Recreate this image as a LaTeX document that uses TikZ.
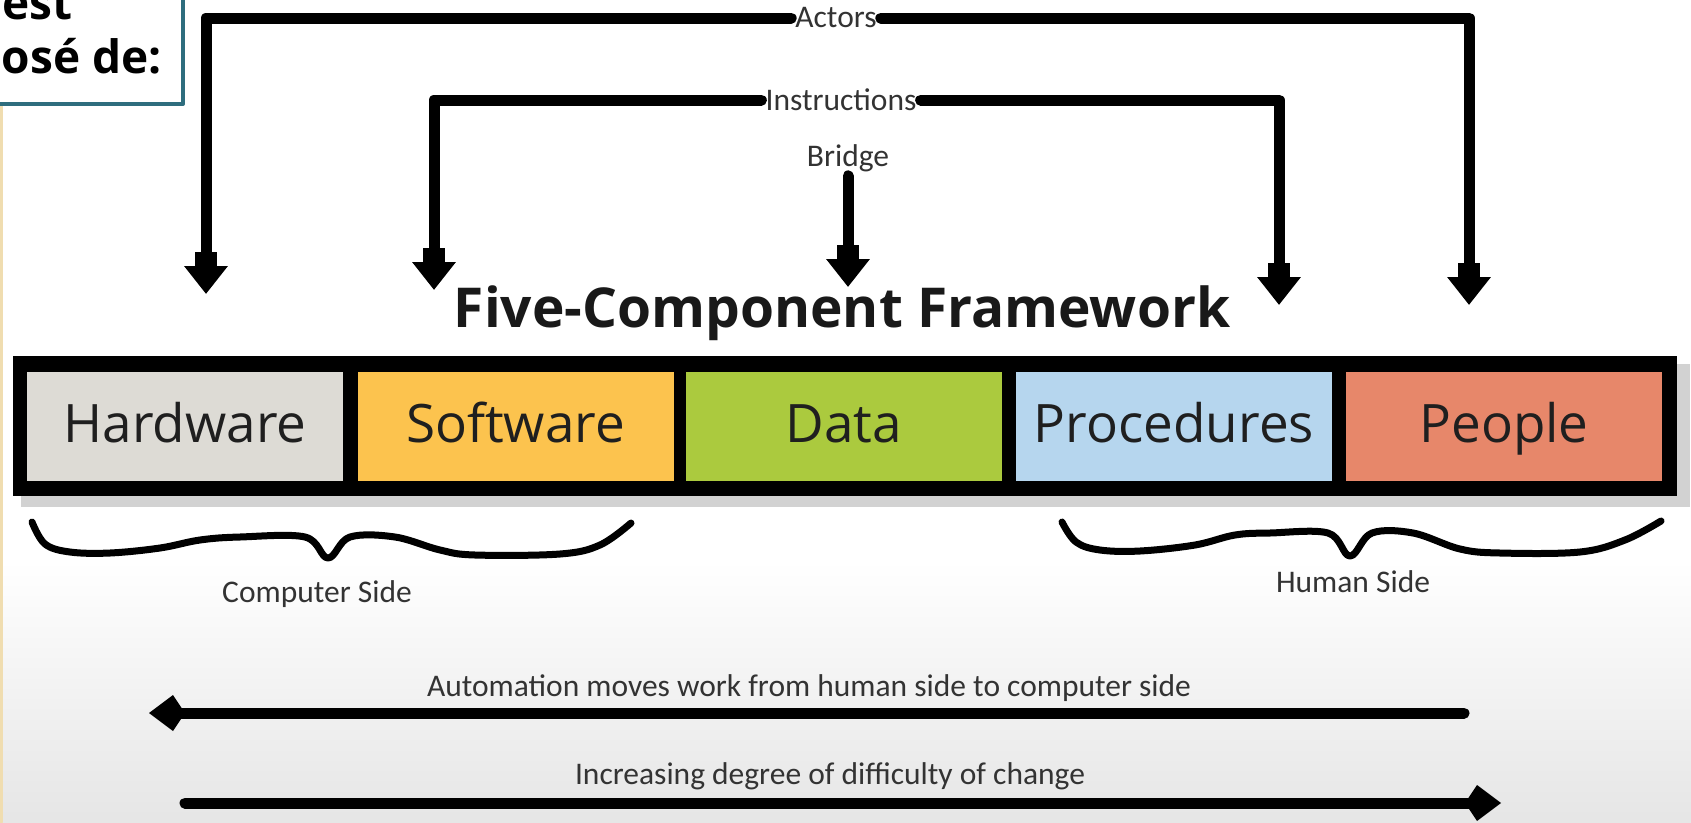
\documentclass[tikz,border=0pt]{standalone}
\usepackage{fontspec}
\setmainfont{Carlito}
\newfontfamily\compfont{Open Sans}
\newfontfamily\notefont{Open Sans}
\usetikzlibrary{arrows.meta}

\definecolor{hwgray}{HTML}{DDDBD5}
\definecolor{swyellow}{HTML}{FCC34E}
\definecolor{dtgreen}{HTML}{ABCA3E}
\definecolor{prblue}{HTML}{B6D6EE}
\definecolor{pporange}{HTML}{E7876A}
\definecolor{noteteal}{HTML}{2E6D7E}
\definecolor{edgebeige}{HTML}{F0DDB0}

\begin{document}
\begin{tikzpicture}[x=1pt, y=-1pt, line cap=round, line join=round,
  comp/.style={minimum width=316pt, minimum height=109pt, inner sep=0pt,
    text height=39pt, text depth=8pt, text=black!88,
    font=\compfont\fontsize{53}{53}\selectfont},
  lbl/.style={font=\fontsize{31.5}{31.5}\selectfont, text=black!80, inner sep=4pt},
  notetext/.style={font=\notefont\bfseries\fontsize{46}{46}\selectfont, inner sep=0pt},
  topline/.style={line width=11pt,
    -{Square[length=14pt,width=22pt]Triangle[length=28pt,width=42pt]}},
  botline/.style={line width=11pt, -{Kite[length=36pt,width=36pt,inset=12pt]}},
  brace/.style={line width=7pt}]

% Frame
\clip (0,0) rectangle (1691,822);
\fill[white] (0,0) rectangle (1691,822);
\shade[top color=white, bottom color=gray!20] (0,560) rectangle (1691,822);
\draw[edgebeige, line width=3pt, densely dotted] (1,104) -- (1,822);

% Note box (cut off by the frame)
\draw[noteteal, line width=4pt, fill=white] (-10,-10) rectangle (183,104);
\node[notetext, anchor=base east] (est) at (73,19) {est};
\node[notetext, anchor=base east] (ose) at (162,73) {osé de:};

% Top labels
\node[lbl] (actors) at (836,18) {Actors};
\node[lbl] (instr) at (841,100) {Instructions};
\node[lbl] (bridge) at (848,158) {Bridge};

% Arrow ends
\coordinate (hwtip) at (206,294);
\coordinate (swtip) at (434,290);
\coordinate (dttip) at (848,287);
\coordinate (prtip) at (1279,305);
\coordinate (pptip) at (1469,305);

% Arrows
\draw[topline] (actors.west) -| (hwtip);
\draw[topline] (actors.east) -| (pptip);
\draw[topline] (instr.west) -| (swtip);
\draw[topline] (instr.east) -| (prtip);
\draw[topline] (bridge.south) -- (dttip);

% Title
\node[font=\compfont\bfseries\fontsize{55}{55}\selectfont, text=black!90] (title) at (842,313) {Five-Component Framework};

% Bar
\fill[gray!35] (21,364) rectangle (1690,507);
\fill[black] (13,356) rectangle (1677,496);

% Components
\node[comp, fill=hwgray] (hw) at (185,426.5) {Hardware};
\node[comp, fill=swyellow] (sw) at (515.5,426.5) {Software};
\node[comp, fill=dtgreen] (dt) at (844,426.5) {Data};
\node[comp, fill=prblue] (pr) at (1174,426.5) {Procedures};
\node[comp, fill=pporange] (pp) at (1504,426.5) {People};

% Braces
\draw[brace] plot[smooth, tension=0.6] coordinates {(32,522) (45,544) (70,552) (110,553) (160,548) (200,540) (240,537) (305,537) (328,558) (350,537) (395,537) (440,550) (475,555) (560,554) (600,545) (631,523)};
\draw[brace] plot[smooth, tension=0.6] coordinates {(1062,522) (1076,542) (1100,550) (1140,551) (1195,545) (1235,535) (1270,533) (1328,533) (1350,556) (1372,533) (1413,533) (1460,549) (1500,553) (1580,552) (1625,540) (1661,521)};

% Side labels
\node[lbl] (compside) at (317,594) {Computer Side};
\node[lbl] (humside) at (1353,582) {Human Side};

% Bottom arrows
\node[lbl] (auto) at (809,688) {Automation moves work from human side to computer side};
\coordinate (autostart) at (1464,713);
\coordinate (autoend) at (149,713);
\draw[botline] (autostart) -- (autoend);

\node[lbl] (incr) at (830,776) {Increasing degree of difficulty of change};
\coordinate (incrstart) at (185,803);
\coordinate (incrend) at (1501,803);
\draw[botline] (incrstart) -- (incrend);

\end{tikzpicture}
\end{document}
